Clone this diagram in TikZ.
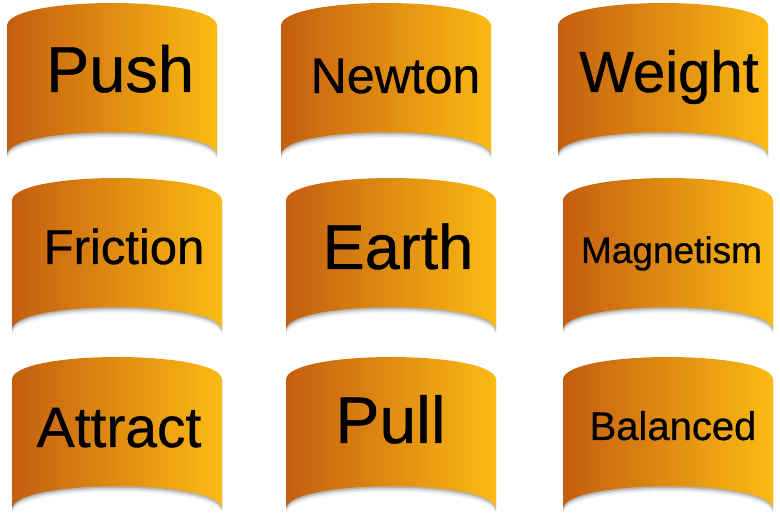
\documentclass[tikz,border=0pt]{standalone}
\usepackage{fontspec}
\setmainfont{Liberation Sans}[UprightFeatures={FakeBold=0.6}]
\definecolor{cardL}{HTML}{C45E10}
\definecolor{cardR}{HTML}{FBBA13}
\tikzset{cardlabel/.style={inner sep=0pt, anchor=base, text=black}}
\newcommand{\cardpath}[2]{({#1},{#2+22}) .. controls ({#1+4},{#2-7.3}) and ({#1+206},{#2-7.3}) .. ({#1+210},{#2+22}) -- ({#1+210},{#2+151}) .. controls ({#1+205},{#2+122}) and ({#1+5},{#2+122}) .. ({#1},{#2+151}) -- cycle}
\begin{document}
\begin{tikzpicture}[x=1pt,y=-1pt]
\useasboundingbox (0,0) rectangle (780,521);
\foreach \cx/\cy in {7/3, 281/3, 558/3, 12/178, 286/178, 563/178, 12/357, 286/357, 563/357}{
  \foreach \s/\o in {1.5/0.14, 3/0.10, 4.5/0.06, 6/0.03}{
    \fill[black, opacity=\o, yshift=-\s pt] \cardpath{\cx}{\cy};
  }
  \shade[left color=cardL, right color=cardR] \cardpath{\cx}{\cy};
}
\node[cardlabel] (push) at (120,92) {\fontsize{65}{70}\selectfont Push};
\node[cardlabel] (newton) at (395.5,93) {\fontsize{50}{56}\selectfont Newton};
\node[cardlabel] (weight) at (669,92) {\fontsize{58}{64}\selectfont Weight};
\node[cardlabel] (friction) at (124,264) {\fontsize{49}{55}\selectfont Friction};
\node[cardlabel] (earth) at (398,269) {\fontsize{63}{70}\selectfont Earth};
\node[cardlabel] (magnetism) at (671.5,263) {\fontsize{37}{42}\selectfont Magnetism};
\node[cardlabel] (attract) at (119,447) {\fontsize{57}{63}\selectfont Attract};
\node[cardlabel] (pull) at (390.5,443) {\fontsize{66}{72}\selectfont Pull};
\node[cardlabel] (balanced) at (673,440) {\fontsize{40}{45}\selectfont Balanced};
\end{tikzpicture}
\end{document}
